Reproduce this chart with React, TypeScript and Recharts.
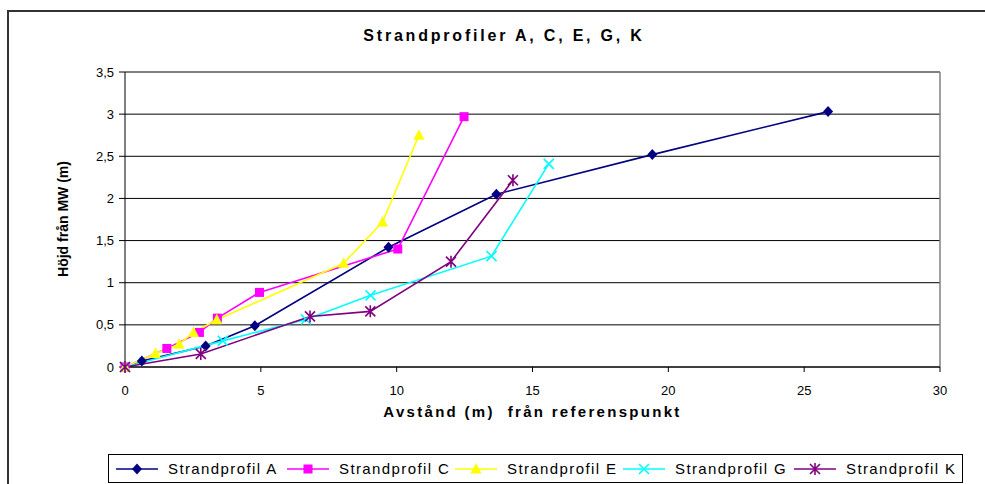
import React from "react";
import { LineChart, Line, XAxis, YAxis, CartesianGrid, ReferenceLine, Legend } from "recharts";

// Strandprofiler: avstånd (m) och höjd (m) per profil
const aX = [0, 0.62, 2.97, 4.78, 9.7, 13.67, 19.41, 25.88];
const aY = [0, 0.07, 0.25, 0.49, 1.42, 2.05, 2.52, 3.03];
const cX = [0, 1.54, 2.74, 3.4, 4.95, 10.04, 12.48];
const cY = [0, 0.22, 0.41, 0.58, 0.885, 1.4, 2.97];
const eX = [0, 1.12, 1.99, 2.52, 3.38, 8.05, 9.48, 10.82];
const eY = [0, 0.16, 0.27, 0.41, 0.56, 1.23, 1.72, 2.75];
const gX = [0, 3.6, 6.66, 9.04, 13.49, 15.6];
const gY = [0, 0.31, 0.565, 0.85, 1.315, 2.41];
const kX = [0, 2.79, 6.81, 9.03, 12.0, 14.28];
const kY = [0, 0.155, 0.6, 0.66, 1.25, 2.215];

const xTicks = [0, 5, 10, 15, 20, 25, 30];
const yTicks = [0, 0.5, 1, 1.5, 2, 2.5, 3, 3.5];

const FONT = 'Arial, "Liberation Sans", sans-serif';

type Shape = "diamond" | "square" | "triangle" | "cross" | "star";

const zip = (xs: number[], ys: number[]) => xs.map((x, i) => ({ x, y: ys[i] }));

const series = [
  { name: "Strandprofil A", color: "#000080", shape: "diamond" as Shape, data: zip(aX, aY) },
  { name: "Strandprofil C", color: "#FF00FF", shape: "square" as Shape, data: zip(cX, cY) },
  { name: "Strandprofil E", color: "#FFFF00", shape: "triangle" as Shape, data: zip(eX, eY) },
  { name: "Strandprofil G", color: "#00FFFF", shape: "cross" as Shape, data: zip(gX, gY) },
  { name: "Strandprofil K", color: "#800080", shape: "star" as Shape, data: zip(kX, kY) },
];

function Marker({ cx, cy, shape, color }: { cx: number; cy: number; shape: Shape; color: string }) {
  if (cx == null || cy == null) return null;
  switch (shape) {
    case "diamond":
      return <path d={`M${cx},${cy - 5.5}L${cx + 5},${cy}L${cx},${cy + 5.5}L${cx - 5},${cy}Z`} fill={color} />;
    case "square":
      return <rect x={cx - 4.5} y={cy - 4.5} width={9} height={9} fill={color} />;
    case "triangle":
      return <path d={`M${cx},${cy - 6}L${cx + 5.5},${cy + 4.5}L${cx - 5.5},${cy + 4.5}Z`} fill={color} />;
    case "cross":
      return (
        <path d={`M${cx - 5},${cy - 5}L${cx + 5},${cy + 5}M${cx + 5},${cy - 5}L${cx - 5},${cy + 5}`} stroke={color} strokeWidth={1.6} />
      );
    default:
      return (
        <path
          d={`M${cx - 5},${cy - 5}L${cx + 5},${cy + 5}M${cx + 5},${cy - 5}L${cx - 5},${cy + 5}M${cx},${cy - 6}L${cx},${cy + 6}`}
          stroke={color}
          strokeWidth={1.6}
        />
      );
  }
}

const legendOffsets = [7, 178, 346, 514, 685];

function ChartLegend() {
  return (
    <div
      style={{
        position: "relative",
        width: 855,
        height: 29,
        border: "1px solid #000",
        boxSizing: "border-box",
        background: "#fff",
        fontFamily: FONT,
      }}
    >
      {series.map((s, i) => (
        <div
          key={s.name}
          style={{ position: "absolute", left: legendOffsets[i], top: 0, height: 27, display: "flex", alignItems: "center" }}
        >
          <svg width={42} height={14}>
            <line x1={0} y1={7} x2={42} y2={7} stroke={s.color} strokeWidth={1.6} />
            <Marker cx={21} cy={7} shape={s.shape} color={s.color} />
          </svg>
          <span style={{ marginLeft: 10, fontSize: 15, letterSpacing: 1.4, color: "#000", whiteSpace: "nowrap" }}>{s.name}</span>
        </div>
      ))}
    </div>
  );
}

export default function App() {
  return (
    <div style={{ position: "absolute", left: 0, top: 0, width: 985, height: 484, background: "#fff", overflow: "hidden" }}>
      <div
        style={{
          position: "absolute",
          left: 7,
          top: 10,
          width: 1000,
          height: 500,
          border: "2px solid #333",
          boxSizing: "border-box",
        }}
      />
      <div
        style={{
          position: "absolute",
          left: 0,
          top: 27,
          width: 1008,
          textAlign: "center",
          fontFamily: FONT,
          fontWeight: "bold",
          fontSize: 16,
          letterSpacing: 2.8,
          color: "#000",
        }}
      >
        Strandprofiler A, C, E, G, K
      </div>
      <LineChart width={985} height={484} margin={{ top: 72, right: 45, bottom: 38, left: 65 }} style={{ position: "absolute", left: 0, top: 0 }}>
        <CartesianGrid vertical={false} stroke="#000" strokeWidth={1} />
        <XAxis
          type="number"
          dataKey="x"
          domain={[0, 30]}
          ticks={xTicks}
          height={50}
          stroke="#000"
          tickSize={5}
          tickMargin={14}
          tick={{ fontSize: 13, fill: "#000", fontFamily: FONT }}
          label={({ viewBox }: any) => (
            <text
              x={viewBox.x + viewBox.width / 2}
              y={417}
              textAnchor="middle"
              fontFamily={FONT}
              fontSize={15}
              fontWeight="bold"
              letterSpacing={2.3}
              style={{ whiteSpace: "pre" }}
              fill="#000"
            >
              {"Avstånd (m)  från referenspunkt"}
            </text>
          )}
        />
        <YAxis
          type="number"
          domain={[0, 3.5]}
          ticks={yTicks}
          width={60}
          stroke="#000"
          tickSize={6}
          tickMargin={5}
          tickFormatter={(v: number) => String(v).replace(".", ",")}
          tick={{ fontSize: 13, fill: "#000", fontFamily: FONT }}
          label={() => (
            <text
              x={0}
              y={0}
              transform="translate(68, 219) rotate(-90)"
              textAnchor="middle"
              fontFamily={FONT}
              fontSize={14}
              fontWeight="bold"
              fill="#000"
            >
              Höjd från MW (m)
            </text>
          )}
        />
        <ReferenceLine y={3.5} stroke="#808080" strokeWidth={1.5} />
        <ReferenceLine x={30} stroke="#808080" strokeWidth={1.5} />
        {series.map((s) => (
          <Line
            key={s.name}
            data={s.data}
            dataKey="y"
            name={s.name}
            type="linear"
            stroke={s.color}
            strokeWidth={1.6}
            isAnimationActive={false}
            dot={(p: any) => <Marker key={`${s.name}-${p.index}`} cx={p.cx} cy={p.cy} shape={s.shape} color={s.color} />}
            activeDot={false}
          />
        ))}
        <Legend
          verticalAlign="bottom"
          content={() => <ChartLegend />}
          wrapperStyle={{ left: 108, top: 454, bottom: "auto", width: 855, height: 29 }}
        />
      </LineChart>
    </div>
  );
}
